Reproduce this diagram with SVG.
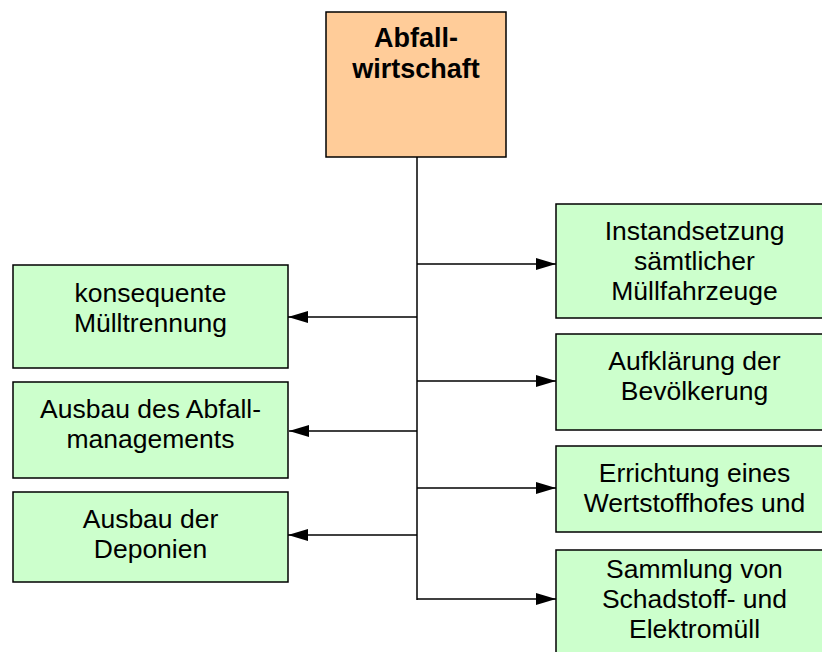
<svg xmlns="http://www.w3.org/2000/svg" width="822" height="652" viewBox="0 0 822 652">
<style>
.box{fill:#CCFFCC;stroke:#000;stroke-width:1.5}
.top{fill:#FFCC99;stroke:#000;stroke-width:1.5}
.t{font-family:"Liberation Sans",Arial,sans-serif;font-size:26.5px;fill:#000;text-anchor:middle}
.b{font-weight:bold;font-size:27px}
.c{fill:none;stroke:#000;stroke-width:1.5}
</style>
<defs>
<marker id="ah" markerUnits="userSpaceOnUse" markerWidth="20" markerHeight="12" refX="20" refY="6" orient="auto">
<path d="M0,0 L20,6 L0,12 Z" fill="#000"/>
</marker>
</defs>
<rect width="822" height="652" fill="#fff"/>
<g id="connectors">
<path class="c" d="M417,157 V600"/>
<path class="c" d="M417,264 H556" marker-end="url(#ah)"/>
<path class="c" d="M417,381 H556" marker-end="url(#ah)"/>
<path class="c" d="M417,488 H556" marker-end="url(#ah)"/>
<path class="c" d="M417,599 H556" marker-end="url(#ah)"/>
<path class="c" d="M417,317 H288" marker-end="url(#ah)"/>
<path class="c" d="M417,431 H289" marker-end="url(#ah)"/>
<path class="c" d="M417,535 H288" marker-end="url(#ah)"/>
</g>
<g id="n-abfallwirtschaft">
<rect class="top" x="326" y="12" width="180" height="145"/>
<text class="t b" x="416" y="47">Abfall-</text>
<text class="t b" x="416" y="78">wirtschaft</text>
</g>
<g id="n-muelltrennung">
<rect class="box" x="13" y="265" width="275" height="103"/>
<text class="t" x="150.5" y="302">konsequente</text>
<text class="t" x="150.5" y="332">Mülltrennung</text>
</g>
<g id="n-abfallmanagement">
<rect class="box" x="13" y="382" width="275" height="96"/>
<text class="t" x="150.5" y="418">Ausbau des Abfall-</text>
<text class="t" x="150.5" y="448">managements</text>
</g>
<g id="n-deponien">
<rect class="box" x="13" y="492" width="275" height="90"/>
<text class="t" x="150.5" y="528">Ausbau der</text>
<text class="t" x="150.5" y="558">Deponien</text>
</g>
<g id="n-instandsetzung">
<rect class="box" x="556" y="204" width="278" height="114"/>
<text class="t" x="694.5" y="240">Instandsetzung</text>
<text class="t" x="694.5" y="270">sämtlicher</text>
<text class="t" x="694.5" y="300">Müllfahrzeuge</text>
</g>
<g id="n-aufklaerung">
<rect class="box" x="556" y="334" width="278" height="96"/>
<text class="t" x="694.5" y="370">Aufklärung der</text>
<text class="t" x="694.5" y="400">Bevölkerung</text>
</g>
<g id="n-wertstoffhof">
<rect class="box" x="556" y="446" width="278" height="86"/>
<text class="t" x="694.5" y="482">Errichtung eines</text>
<text class="t" x="694.5" y="512">Wertstoffhofes und</text>
</g>
<g id="n-sammlung">
<rect class="box" x="556" y="550" width="278" height="120"/>
<text class="t" x="694.5" y="578">Sammlung von</text>
<text class="t" x="694.5" y="608">Schadstoff- und</text>
<text class="t" x="694.5" y="638">Elektromüll</text>
</g>
</svg>
